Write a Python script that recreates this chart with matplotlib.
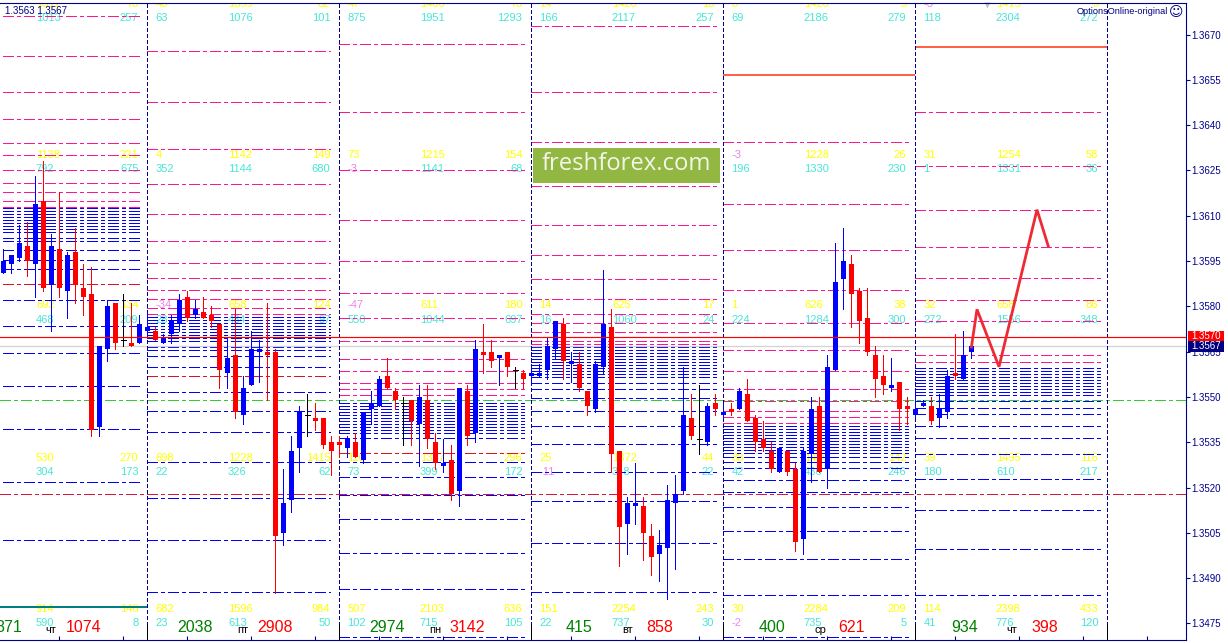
import matplotlib
matplotlib.use('Agg')
import matplotlib.pyplot as plt
from matplotlib.patches import Rectangle
from matplotlib.transforms import Affine2D

plt.rcParams['font.family'] = ['Liberation Sans', 'DejaVu Sans']
plt.rcParams['lines.scale_dashes'] = False

# H1 candles, one list per field
opens = [1.3591, 1.3594, 1.3596, 1.3600, 1.3594, 1.3615, 1.3587, 1.3599, 1.3585, 1.3598, 1.3586, 1.3584, 1.3540, 1.3566, 1.3581, 1.3569, 1.3568, 1.3568,
         1.3572, 1.3572, 1.3568, 1.3571, 1.3574, 1.3583, 1.3577, 1.3578, 1.3577, 1.3574, 1.3558, 1.3564, 1.3544, 1.3554, 1.3565, 1.3565, 1.3565, 1.3505, 1.3516, 1.3533, 1.3544, 1.3543, 1.3543, 1.3535,
         1.3535, 1.3533, 1.3535, 1.3529, 1.3546, 1.3547, 1.3557, 1.3552, 1.3548, 1.3549, 1.3541, 1.3549, 1.3535, 1.3527, 1.3529, 1.3519, 1.3552, 1.3538, 1.3565, 1.3565, 1.3563, 1.3565, 1.3559, 1.3558,
         1.3557, 1.3557, 1.3559, 1.3566, 1.3574, 1.3561, 1.3561, 1.3552, 1.3546, 1.3560, 1.3573, 1.3532, 1.3508, 1.3514, 1.3514, 1.3504, 1.3498, 1.3500, 1.3515, 1.3519, 1.3543, 1.3536, 1.3535, 1.3548,
         1.3544, 1.3546, 1.3546, 1.3551, 1.3543, 1.3536, 1.3532, 1.3525, 1.3532, 1.3526, 1.3503, 1.3531, 1.3547, 1.3526, 1.3559, 1.3589, 1.3594, 1.3585, 1.3576, 1.3564, 1.3557, 1.3553, 1.3555, 1.3547,
         1.3544, 1.3547, 1.3547, 1.3543, 1.3545, 1.3558, 1.3556, 1.3565]
highs = [1.3599, 1.3597, 1.3607, 1.3608, 1.3623, 1.3628, 1.3604, 1.3618, 1.3598, 1.3606, 1.3594, 1.3593, 1.3567, 1.3582, 1.3581, 1.3584, 1.3581, 1.3577,
         1.3578, 1.3573, 1.3571, 1.3577, 1.3584, 1.3585, 1.3582, 1.3583, 1.3580, 1.3574, 1.3570, 1.3579, 1.3557, 1.3572, 1.3569, 1.3581, 1.3566, 1.3526, 1.3537, 1.3547, 1.3551, 1.3548, 1.3543, 1.3537,
         1.3537, 1.3537, 1.3538, 1.3545, 1.3552, 1.3557, 1.3563, 1.3553, 1.3550, 1.3549, 1.3554, 1.3554, 1.3538, 1.3536, 1.3534, 1.3553, 1.3554, 1.3569, 1.3574, 1.3569, 1.3564, 1.3565, 1.3560, 1.3559,
         1.3560, 1.3561, 1.3570, 1.3575, 1.3576, 1.3565, 1.3565, 1.3552, 1.3562, 1.3592, 1.3579, 1.3532, 1.3517, 1.3528, 1.3517, 1.3508, 1.3506, 1.3521, 1.3524, 1.3560, 1.3551, 1.3554, 1.3548, 1.3551,
         1.3548, 1.3548, 1.3553, 1.3556, 1.3544, 1.3542, 1.3535, 1.3533, 1.3532, 1.3528, 1.3533, 1.3550, 1.3550, 1.3564, 1.3601, 1.3606, 1.3597, 1.3586, 1.3586, 1.3567, 1.3564, 1.3563, 1.3555, 1.3550,
         1.3552, 1.3549, 1.3550, 1.3551, 1.3559, 1.3571, 1.3572, 1.3567]
lows = [1.3591, 1.3591, 1.3595, 1.3590, 1.3583, 1.3585, 1.3572, 1.3583, 1.3576, 1.3581, 1.3577, 1.3537, 1.3537, 1.3562, 1.3566, 1.3567, 1.3567, 1.3568,
        1.3570, 1.3569, 1.3568, 1.3568, 1.3572, 1.3575, 1.3576, 1.3576, 1.3573, 1.3553, 1.3553, 1.3543, 1.3541, 1.3554, 1.3555, 1.3549, 1.3485, 1.3501, 1.3512, 1.3525, 1.3537, 1.3539, 1.3533, 1.3524,
        1.3530, 1.3530, 1.3530, 1.3528, 1.3541, 1.3547, 1.3553, 1.3546, 1.3534, 1.3534, 1.3527, 1.3533, 1.3526, 1.3525, 1.3516, 1.3514, 1.3534, 1.3535, 1.3558, 1.3560, 1.3554, 1.3557, 1.3553, 1.3553,
        1.3554, 1.3557, 1.3556, 1.3563, 1.3556, 1.3555, 1.3552, 1.3544, 1.3545, 1.3558, 1.3525, 1.3494, 1.3498, 1.3508, 1.3496, 1.3491, 1.3489, 1.3483, 1.3493, 1.3518, 1.3536, 1.3531, 1.3534, 1.3544,
        1.3543, 1.3544, 1.3546, 1.3542, 1.3532, 1.3532, 1.3525, 1.3525, 1.3524, 1.3499, 1.3498, 1.3522, 1.3525, 1.3520, 1.3559, 1.3579, 1.3573, 1.3568, 1.3564, 1.3550, 1.3551, 1.3552, 1.3539, 1.3541,
        1.3543, 1.3547, 1.3541, 1.3540, 1.3543, 1.3556, 1.3556, 1.3563]
closes = [1.3595, 1.3597, 1.3601, 1.3595, 1.3614, 1.3586, 1.3600, 1.3586, 1.3597, 1.3587, 1.3583, 1.3539, 1.3567, 1.3580, 1.3568, 1.3569, 1.3567, 1.3574,
          1.3573, 1.3569, 1.3570, 1.3575, 1.3582, 1.3576, 1.3579, 1.3576, 1.3575, 1.3559, 1.3563, 1.3545, 1.3553, 1.3566, 1.3566, 1.3564, 1.3504, 1.3515, 1.3532, 1.3545, 1.3544, 1.3542, 1.3534, 1.3532,
          1.3534, 1.3536, 1.3530, 1.3545, 1.3548, 1.3556, 1.3553, 1.3549, 1.3548, 1.3542, 1.3550, 1.3536, 1.3528, 1.3528, 1.3518, 1.3553, 1.3537, 1.3566, 1.3564, 1.3562, 1.3564, 1.3560, 1.3559, 1.3556,
          1.3558, 1.3558, 1.3567, 1.3575, 1.3562, 1.3562, 1.3553, 1.3547, 1.3561, 1.3574, 1.3531, 1.3507, 1.3515, 1.3515, 1.3505, 1.3497, 1.3501, 1.3516, 1.3518, 1.3544, 1.3537, 1.3536, 1.3547, 1.3546,
          1.3545, 1.3545, 1.3552, 1.3542, 1.3535, 1.3533, 1.3526, 1.3533, 1.3525, 1.3502, 1.3532, 1.3546, 1.3525, 1.3560, 1.3588, 1.3595, 1.3584, 1.3575, 1.3565, 1.3556, 1.3554, 1.3554, 1.3546, 1.3546,
          1.3546, 1.3548, 1.3542, 1.3546, 1.3557, 1.3557, 1.3564, 1.3567]

price_ticks = [1.3670, 1.3655, 1.3640, 1.3625, 1.3610, 1.3595, 1.3580, 1.3565, 1.3550, 1.3535, 1.3520, 1.3505, 1.3490, 1.3475]

# day boundaries (candle numbers) and where each day's levels end
day_starts = [0, 18, 42, 66, 90, 114]
day_ends = [17.45, 40.85, 65.6, 89.6, 113.6, 137.6]
separators = [18, 42, 66, 90, 114, 138]

pink_levels = [
    [1.3676, 1.3663, 1.3651, 1.3642, 1.3634, 1.3630, 1.3625, 1.3621, 1.3618, 1.3615, 1.3613],
    [1.36645, 1.36475, 1.3632, 1.36205, 1.36105, 1.36015, 1.35945, 1.35895, 1.35855, 1.35825, 1.35795, 1.35775],
    [1.3667, 1.36445, 1.3625, 1.36085, 1.3595, 1.35845, 1.3576, 1.35685, 1.35625, 1.35585, 1.35545, 1.35525, 1.35505],
    [1.36728, 1.3651, 1.36345, 1.3620, 1.3607, 1.3597, 1.3589, 1.35825, 1.35775, 1.35745, 1.35715, 1.35685, 1.35675],
    [1.36345, 1.3614, 1.35985, 1.35855, 1.35745, 1.35655, 1.35585, 1.35525, 1.35485, 1.35455, 1.35435, 1.35415],
    [1.36445, 1.36265, 1.3612, 1.35995, 1.35895, 1.3582, 1.3575, 1.3570, 1.3567, 1.3564, 1.35615],
]
blue_levels = [
    [1.36125, 1.36115, 1.36105, 1.36095, 1.36085, 1.36075, 1.36065, 1.36055, 1.36045, 1.36025, 1.36015, 1.35985, 1.35955, 1.35925, 1.3582, 1.35735, 1.35645, 1.35535, 1.35395, 1.3522, 1.35025],
    [1.35765, 1.35755, 1.35745, 1.35735, 1.35725, 1.35715, 1.35705, 1.35695, 1.35685, 1.35665, 1.35655, 1.35635, 1.3560, 1.35515, 1.35455, 1.35385, 1.35285, 1.35165, 1.35025, 1.34855],
    [1.3548, 1.3547, 1.3546, 1.3545, 1.3544, 1.3543, 1.3542, 1.3541, 1.3540, 1.3539, 1.3538, 1.35365, 1.35285, 1.35235, 1.35175, 1.35095, 1.34985, 1.34865, 1.34705],
    [1.35665, 1.35655, 1.35645, 1.35635, 1.35625, 1.35615, 1.35605, 1.35595, 1.35585, 1.35575, 1.35565, 1.35545, 1.35525, 1.35495, 1.35455, 1.35405, 1.35345, 1.3525, 1.35155, 1.35015, 1.34855],
    [1.35405, 1.35395, 1.35385, 1.35375, 1.35365, 1.35355, 1.35345, 1.35335, 1.35325, 1.35315, 1.3530, 1.35285, 1.35265, 1.35225, 1.35185, 1.35135, 1.35055, 1.34965, 1.34845, 1.34705],
    [1.35595, 1.35585, 1.35575, 1.35565, 1.35555, 1.35545, 1.35535, 1.35525, 1.35515, 1.35505, 1.35485, 1.35465, 1.35445, 1.35405, 1.35365, 1.3531, 1.3523, 1.35125, 1.34995, 1.34845],
]
red_levels = [(0, 1.35875), (1, 1.3557), (2, 1.35315)]
thick_levels = [(4, 1.36565), (5, 1.3666)]
teal_level = 1.34805
bid_price = 1.3570
ask_price = 1.3567
green_level = 1.3549
red_level = 1.3518

forecast_x = [121, 121.7, 124.45, 129.2, 130.6]
forecast_y = [1.35665, 1.3579, 1.3560, 1.3612, 1.3600]

# number columns, left / middle / right per day
row_1 = [['', '1311', '73'], ['46', '1359', '82'], ['47', '1406', '73'], ['14', '1420', '16'], ['0', '1420', '5'], ['-3', '1415', '5']]
row_2 = [['', '1013', '257'], ['63', '1076', '101'], ['875', '1951', '1293'], ['166', '2117', '257'], ['69', '2186', '279'], ['118', '2304', '272']]
row_3 = [['', '1138', '221'], ['4', '1142', '149'], ['73', '1215', '154'], ['', '', ''], ['-3', '1228', '26'], ['31', '1254', '58']]
row_4 = [['', '792', '675'], ['352', '1144', '680'], ['-3', '1141', '68'], ['', '', ''], ['196', '1330', '230'], ['1', '1331', '36']]
row_5 = [['', '692', '134'], ['-34', '658', '124'], ['-47', '611', '180'], ['14', '625', '17'], ['1', '626', '38'], ['32', '658', '86']]
row_6 = [['', '468', '209'], ['28', '484', '97'], ['550', '1044', '697'], ['16', '1060', '24'], ['224', '1284', '300'], ['272', '1556', '348']]
row_7 = [['', '530', '270'], ['698', '1228', '1415'], ['110', '1347', '296'], ['25', '1372', '44'], ['88', '1460', '142'], ['39', '1495', '116']]
row_8 = [['', '304', '173'], ['22', '326', '62'], ['73', '399', '172'], ['-11', '348', '22'], ['42', '436', '246'], ['180', '610', '217']]
row_9 = [['', '914', '146'], ['682', '1596', '984'], ['507', '2103', '636'], ['151', '2254', '243'], ['30', '2284', '209'], ['114', '2398', '433']]
row_10 = [['', '590', '8'], ['23', '613', '50'], ['102', '715', '105'], ['22', '737', '30'], ['-2', '735', '5'], ['41', '776', '120']]

green_totals = ['871', '2038', '2974', '415', '400', '934']
red_totals = ['1074', '2908', '3142', '858', '621', '398']
weekdays = ['чт', 'пт', 'пн', 'вт', 'ср', 'чт']

NAVY = '#00008b'
PINK = '#ff1493'
YELLOW = '#ffff00'
CYAN = '#48e6d6'
VIOLET = '#ee82ee'
DASHDOT = (0, (7.2, 2.2, 2.2, 2.2))
THIN = 0.7

W, H = 1228, 643
fig = plt.figure(figsize=(W / 100, H / 100), dpi=100)
ax = fig.add_axes([0, (H - 639.5) / H, 1186 / W, 637 / H])
ax.set_xlim(-0.425, 147.825)
ax.set_ylim(1.34697, 1.36806)

# screen pixels, y going down, for the overlay text
scr = Affine2D().scale(1, -1).translate(0, H)

# levels
for d in range(6):
    ax.hlines(pink_levels[d], day_starts[d], day_ends[d], colors=PINK, lw=THIN, linestyles=[DASHDOT], antialiased=False, zorder=2)
    ax.hlines(blue_levels[d], day_starts[d], day_ends[d], colors='#0000ff', lw=THIN, linestyles=[DASHDOT], antialiased=False, zorder=2)
for d, lev in red_levels:
    ax.hlines(lev, day_starts[d], day_ends[d], colors='#e0101c', lw=THIN, linestyles=[DASHDOT], antialiased=False, zorder=2)
for d, lev in thick_levels:
    ax.hlines(lev, separators[d - 1], separators[d], colors='#ff6347', lw=1.45, zorder=2)
ax.hlines(teal_level, -0.425, 18, colors='#008080', lw=1.45, zorder=2)

ax.axhline(ask_price, color='#d3d3d3', lw=0.9, zorder=2)
ax.axhline(green_level, color='#32cd32', lw=THIN, linestyle=DASHDOT, antialiased=False, zorder=2)
ax.axhline(red_level, color='#dc143c', lw=THIN, linestyle=DASHDOT, antialiased=False, zorder=2)

# separators, dashed and solid black at the foot
ax.vlines(separators, 1.34725, 1.36806, colors=NAVY, lw=0.95, linestyles=[(0, (2.3, 1.5))], antialiased=False, zorder=2.5)
ax.vlines(separators, 1.34697, 1.34745, colors='black', lw=THIN, antialiased=False, zorder=2.6)

# number rows
row_list = [row_1, row_2, row_3, row_4, row_5, row_6, row_7, row_8, row_9, row_10]
row_ypos = [4.3, 18.3, 155.5, 169.5, 305.5, 320, 458, 472.3, 609, 623.3]
for r, row in enumerate(row_list):
    col = YELLOW if r % 2 == 0 else CYAN
    for d, vals in enumerate(row):
        base = 3.4 + 8 * day_starts[d] if d else -44.6
        for txt, dx, ha in zip(vals, [8, 80.5, 183], ['left', 'left', 'right']):
            if not txt:
                continue
            c = VIOLET if txt.startswith('-') else col
            ax.text(base + dx, row_ypos[r], txt, transform=scr, color=c, fontsize=8, ha=ha, va='center', clip_on=True, zorder=1.5)

# candles
for i in range(len(opens)):
    o, h, l, c = opens[i], highs[i], lows[i], closes[i]
    col = 'blue' if c > o else 'red' if c < o else 'black'
    ax.vlines(i, l, h, colors=col, lw=THIN, antialiased=False, zorder=3)
    if o == c:
        ax.hlines(o, i - 0.32, i + 0.32, colors=col, lw=THIN, antialiased=False, zorder=3)
    else:
        ax.bar(i, abs(c - o), bottom=min(o, c), width=0.72, color=col, linewidth=0, antialiased=False, zorder=3)

ax.axhline(bid_price, color='#ff0000', lw=0.85, zorder=3.5)
ax.plot(forecast_x, forecast_y, color='#ee2a35', lw=2.0, solid_joinstyle='miter', zorder=4)

# totals at the foot of each day
green_x = [-5, 177, 369, 566, 759, 951]
red_x = [66, 257, 449, 646, 838, 1031]
day_x = [51, 243, 435, 628, 820, 1012]
for d in range(6):
    ax.text(green_x[d], 627, green_totals[d], transform=scr, color='#008000', fontsize=11.5, va='center', clip_on=True, zorder=4)
    ax.text(red_x[d], 627, red_totals[d], transform=scr, color='#ff0000', fontsize=11.5, va='center', clip_on=True, zorder=4)
    ax.text(day_x[d], 630, weekdays[d], transform=scr, color='black', fontsize=8, ha='center', va='center', zorder=4)

# header texts and banner
ax.text(5, 11, '1.3563 1.3567', transform=scr, color='#000080', fontsize=7, va='center', zorder=5)
ax.text(1077, 12, 'OptionsOnline-original', transform=scr, color='#000080', fontsize=6.6, va='center', zorder=5)
ax.text(1176, 12, '☺', transform=scr, color='#000080', fontsize=10, family='DejaVu Sans', ha='center', va='center', zorder=5)
ax.plot([987], [5], marker='v', ms=5, color='#c0c0c0', mec='none', transform=scr, clip_on=False, zorder=1.5)

ax.add_patch(Rectangle((532.7, 147.5), 187, 35.2, transform=scr, facecolor='#93b743', edgecolor='none', zorder=6))
ax.text(626.5, 164.5, 'freshforex.com', transform=scr, color='#f3f6e6', fontsize=17.2, family='Open Sans', ha='center', va='center', zorder=7)

# axis look
ax.spines['left'].set_visible(False)
for side in ['top', 'right', 'bottom']:
    ax.spines[side].set_color(NAVY)
    ax.spines[side].set_linewidth(0.8)
ax.yaxis.tick_right()
ax.set_yticks(price_ticks, ['%.4f' % p for p in price_ticks])
ax.tick_params(axis='y', length=2.6, width=0.8, color=NAVY, labelcolor=NAVY, labelsize=7, pad=1.5)
ax.set_xticks(list(range(7, 148, 8)))
ax.tick_params(axis='x', direction='in', length=2.9, width=0.8, color=NAVY, labelbottom=False)

# price boxes on the axis
ax.add_patch(Rectangle((1188, 331), 36, 10, transform=scr, facecolor='#ff0000', edgecolor='none', clip_on=False, zorder=8))
ax.add_patch(Rectangle((1188, 341), 36, 10.5, transform=scr, facecolor='#000080', edgecolor='none', clip_on=False, zorder=8))
ax.text(1206, 336.2, '%.4f' % bid_price, transform=scr, color='white', fontsize=7, ha='center', va='center', clip_on=False, zorder=9)
ax.text(1206, 346.3, '%.4f' % ask_price, transform=scr, color='white', fontsize=7, ha='center', va='center', clip_on=False, zorder=9)

fig.savefig('out.png', dpi=100)
